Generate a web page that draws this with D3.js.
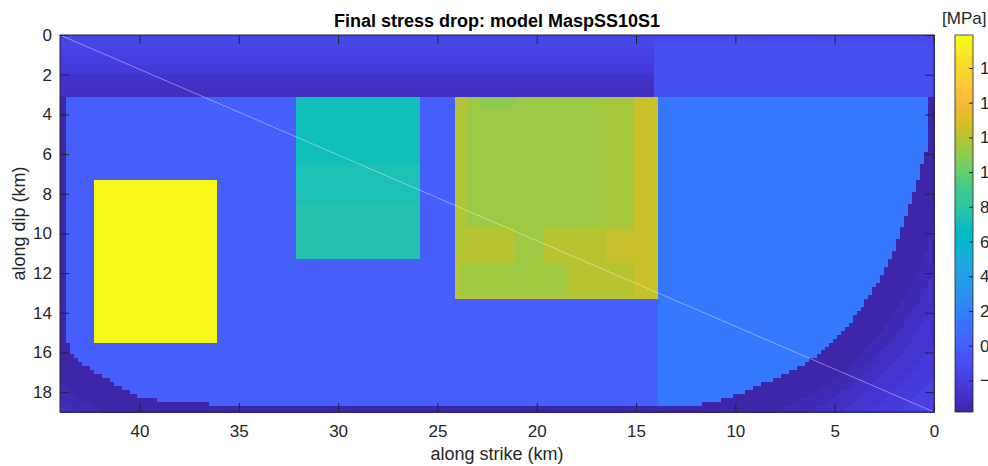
<!DOCTYPE html>
<html>
<head>
<meta charset="utf-8">
<script src="https://cdn.jsdelivr.net/npm/d3@7"></script>
<style>
  html, body { margin: 0; padding: 0; background: #fff; overflow: hidden; }
  svg { display: block; font-family: "Liberation Sans", Arial, Helvetica, sans-serif; }
</style>
</head>
<body>
<svg id="chart" width="988" height="466"></svg>
<script>
// ---- fault plane and axes (km) ----
const strikeExtent = [44, 0];
const dipExtent = [0, 19];
const gridStep = 0.2;            // subfault spacing, cells centred on multiples of it
const strikeTicks = [40, 35, 30, 25, 20, 15, 10, 5, 0];
const dipTicks = [0, 2, 4, 6, 8, 10, 12, 14, 16, 18];
const colorTicks = [-2, 0, 2, 4, 6, 8, 10, 12, 14, 16];
const colorLimits = [-3.82, 17.9];

// ---- asperities: strike range, dip range, stress drop (MPa) ----
const aspStrike = [[36.1, 42.3], [25.9, 32.1], [13.9, 24.1]];
const aspDip = [[7.3, 15.5], [3.1, 11.3], [3.1, 13.3]];
const aspDrop = [17.7, 7.0, 12.0];

// ---- uneven patches inside the asperities (drawn on top, in order) ----
const patchStrike = [
  [25.9, 32.1], [25.9, 32.1],
  [23.5, 24.1], [16.9, 23.5], [15.1, 16.9], [21.1, 22.9], [19.7, 21.1], [18.5, 23.9], [13.9, 15.1], [15.1, 16.5]
];
const patchDip = [
  [6.5, 8.5], [8.5, 11.3],
  [3.1, 11.3], [3.1, 9.7], [3.1, 9.7], [3.1, 3.7], [9.7, 11.5], [11.5, 13.1], [3.1, 13.3], [9.9, 11.5]
];
const patchDrop = [
  7.3, 7.6,
  11.9, 11.3, 11.6, 10.9, 11.4, 11.4, 12.5, 12.4
];

// ---- background outside the asperities ----
const shallowBase = 3.1;
const shallowDipSteps = [0, 0.3, 0.7, 1.1, 1.5, 1.9, 2.3, 2.7];
const shallowDropWest = [-1.5, -1.6, -1.8, -2.0, -2.3, -2.7, -3.0, -3.1];
const shallowDropEast = [-1.4, -1.0, -0.9, -0.9, -0.9, -0.9, -0.9, -0.9];
const eastEdgeShallow = 14.1;
const eastEdge = 13.9;
const deepDropWest = 0.0;
const deepDropEast = 1.5;

// ---- edge of the tapered border zone (strike, dip) ----
const taperStrike = [43.7, 43.7, 43.5, 43.0, 42.0, 41.0, 40.0, 38.5, 36.6, 30.0, 20.0, 13.0, 11.8, 10.8, 9.76, 8.75, 7.75, 6.74, 5.73, 4.73, 3.72, 2.71, 2.0, 1.2, 0.7, 0.3, 0.3];
const taperDip = [3.1, 15.2, 15.9, 16.5, 17.15, 17.75, 18.24, 18.5, 18.6, 18.7, 18.7, 18.65, 18.6, 18.4, 18.07, 17.65, 17.23, 16.76, 16.05, 15.04, 13.87, 12.35, 10.9, 8.4, 6.9, 5.5, 3.1];
// stress drop in the border zone by distance (km) from its inner edge
const taperDist = [0, 1.5, 2.2, 3.0, 4.0, 5.0];
const taperDrop = [-3.8, -3.4, -3.0, -2.6, -2.2, -1.8];

// ---- diagonal trace ----
const lineStrike = [44, 0];
const lineDip = [0, 19];

// ---- parula colormap ----
const parula = [
  [0.2422,0.1504,0.6603],[0.2504,0.1650,0.7076],[0.2578,0.1818,0.7511],[0.2647,0.1978,0.7952],
  [0.2706,0.2147,0.8364],[0.2751,0.2342,0.8710],[0.2783,0.2559,0.8991],[0.2803,0.2782,0.9221],
  [0.2813,0.3006,0.9414],[0.2810,0.3228,0.9579],[0.2795,0.3447,0.9717],[0.2760,0.3667,0.9829],
  [0.2699,0.3892,0.9906],[0.2602,0.4123,0.9952],[0.2440,0.4358,0.9988],[0.2206,0.4603,0.9973],
  [0.1963,0.4847,0.9892],[0.1834,0.5074,0.9798],[0.1786,0.5289,0.9682],[0.1764,0.5499,0.9520],
  [0.1687,0.5703,0.9359],[0.1540,0.5902,0.9218],[0.1460,0.6091,0.9079],[0.1380,0.6276,0.8973],
  [0.1248,0.6459,0.8883],[0.1113,0.6635,0.8763],[0.0952,0.6798,0.8598],[0.0689,0.6948,0.8394],
  [0.0297,0.7082,0.8163],[0.0036,0.7203,0.7917],[0.0067,0.7312,0.7660],[0.0433,0.7411,0.7394],
  [0.0964,0.7500,0.7120],[0.1408,0.7584,0.6842],[0.1717,0.7670,0.6554],[0.1938,0.7758,0.6251],
  [0.2161,0.7843,0.5923],[0.2470,0.7918,0.5567],[0.2906,0.7973,0.5188],[0.3406,0.8008,0.4789],
  [0.3909,0.8029,0.4354],[0.4456,0.8024,0.3909],[0.5044,0.7993,0.3480],[0.5616,0.7942,0.3045],
  [0.6174,0.7876,0.2612],[0.6720,0.7793,0.2227],[0.7242,0.7698,0.1910],[0.7738,0.7598,0.1646],
  [0.8203,0.7498,0.1535],[0.8634,0.7406,0.1596],[0.9035,0.7330,0.1774],[0.9393,0.7288,0.2100],
  [0.9728,0.7298,0.2394],[0.9956,0.7434,0.2371],[0.9970,0.7659,0.2199],[0.9952,0.7893,0.2028],
  [0.9892,0.8136,0.1885],[0.9786,0.8386,0.1766],[0.9676,0.8639,0.1643],[0.9610,0.8890,0.1537],
  [0.9597,0.9135,0.1423],[0.9628,0.9373,0.1265],[0.9691,0.9606,0.1064],[0.9769,0.9839,0.0805]
].map(c => d3.rgb(c[0] * 255, c[1] * 255, c[2] * 255).formatHex());

const color = d3.scaleSequential(d3.piecewise(d3.interpolateRgb, parula))
  .domain(colorLimits).clamp(true);

// ---- layout ----
const svg = d3.select("#chart");
const plot = { left: 60, right: 934, top: 35, bottom: 412 };
const x = d3.scaleLinear().domain(strikeExtent).range([plot.left, plot.right]);
const y = d3.scaleLinear().domain(dipExtent).range([plot.top, plot.bottom]);
const axisColor = "#262626";

// ---- stress drop field ----
const taperLine = taperStrike.map((s, i) => [s, taperDip[i]]);
const innerRegion = [[45, -1], [45, shallowBase], ...taperLine, [-1, shallowBase], [-1, -1]];

function segDist(p, a, b) {
  const dx = b[0] - a[0], dy = b[1] - a[1];
  const L = dx * dx + dy * dy;
  let t = L ? ((p[0] - a[0]) * dx + (p[1] - a[1]) * dy) / L : 0;
  t = Math.max(0, Math.min(1, t));
  const qx = a[0] + t * dx - p[0], qy = a[1] + t * dy - p[1];
  return Math.sqrt(qx * qx + qy * qy);
}
function stepLookup(keys, vals, v) {
  let k = 0;
  for (let i = 0; i < keys.length; i++) if (v >= keys[i]) k = i;
  return vals[k];
}
function inside(s, d, sr, dr) {
  return s > sr[0] && s < sr[1] && d > dr[0] && d < dr[1];
}
function dropAt(s, d) {
  for (let a = 0; a < aspDrop.length; a++) {
    if (inside(s, d, aspStrike[a], aspDip[a])) {
      let v = aspDrop[a];
      patchDrop.forEach((pv, p) => {
        if (inside(s, d, patchStrike[p], patchDip[p])) v = pv;
      });
      return v;
    }
  }
  if (d < shallowBase) {
    return stepLookup(shallowDipSteps, s > eastEdgeShallow ? shallowDropWest : shallowDropEast, d);
  }
  if (!d3.polygonContains(innerRegion, [s, d])) {
    let dist = Infinity;
    for (let i = 0; i < taperLine.length - 1; i++) {
      dist = Math.min(dist, segDist([s, d], taperLine[i], taperLine[i + 1]));
    }
    return stepLookup(taperDist, taperDrop, dist);
  }
  return s > eastEdge ? deepDropWest : deepDropEast;
}

// cells centred on the grid nodes, clipped to the fault plane; equal neighbours merged per row
const nS = Math.round(44 / gridStep);
const nD = Math.round(19 / gridStep);
const cells = [];
for (let j = 0; j <= nD; j++) {
  const d = +(j * gridStep).toFixed(2);
  const d0 = Math.max(0, d - gridStep / 2), d1 = Math.min(19, d + gridStep / 2);
  let runStart = null, prev = null, lastEdge = null;
  for (let k = nS; k >= -1; k--) {
    const s = +(k * gridStep).toFixed(2);
    const c = k >= 0 ? color(dropAt(s, d)) : null;
    if (c !== prev) {
      if (prev !== null) cells.push({ s0: runStart, s1: lastEdge, d0, d1, fill: prev });
      runStart = Math.min(44, s + gridStep / 2);
      prev = c;
    }
    lastEdge = Math.max(0, s - gridStep / 2);
  }
}

svg.append("g")
  .attr("shape-rendering", "crispEdges")
  .selectAll("rect")
  .data(cells)
  .join("rect")
  .attr("x", c => x(c.s0))
  .attr("y", c => y(c.d0))
  .attr("width", c => x(c.s1) - x(c.s0) + 0.5)
  .attr("height", c => y(c.d1) - y(c.d0) + 0.5)
  .attr("fill", c => c.fill);

// diagonal trace
svg.append("line")
  .attr("x1", x(lineStrike[0])).attr("y1", y(lineDip[0]))
  .attr("x2", x(lineStrike[1])).attr("y2", y(lineDip[1]))
  .attr("stroke", "#ffffff").attr("stroke-opacity", 0.5).attr("stroke-width", 0.8);

// ---- axes ----
const tick = 9;
function styleAxis(g) {
  g.selectAll("line").attr("stroke", axisColor);
  g.selectAll("path").remove();
  g.selectAll("text").attr("fill", axisColor).attr("font-size", 17);
}
svg.append("g").attr("transform", `translate(0,${plot.bottom})`)
  .call(d3.axisBottom(x).tickValues(strikeTicks).tickSizeInner(-tick).tickSizeOuter(0).tickPadding(13))
  .call(styleAxis);
svg.append("g").attr("transform", `translate(0,${plot.top})`)
  .call(d3.axisTop(x).tickValues(strikeTicks).tickSizeInner(-tick).tickSizeOuter(0).tickFormat(""))
  .call(styleAxis);
svg.append("g").attr("transform", `translate(${plot.left},0)`)
  .call(d3.axisLeft(y).tickValues(dipTicks).tickSizeInner(-tick).tickSizeOuter(0).tickPadding(8))
  .call(styleAxis);
svg.append("g").attr("transform", `translate(${plot.right},0)`)
  .call(d3.axisRight(y).tickValues(dipTicks).tickSizeInner(-tick).tickSizeOuter(0).tickFormat(""))
  .call(styleAxis);

svg.append("rect")
  .attr("x", plot.left).attr("y", plot.top)
  .attr("width", plot.right - plot.left).attr("height", plot.bottom - plot.top)
  .attr("fill", "none").attr("stroke", axisColor).attr("stroke-width", 1);

// titles
svg.append("text")
  .attr("x", (plot.left + plot.right) / 2).attr("y", 27)
  .attr("text-anchor", "middle").attr("font-weight", "bold").attr("font-size", 18)
  .attr("fill", "#000").text("Final stress drop: model MaspSS10S1");
svg.append("text")
  .attr("x", (plot.left + plot.right) / 2).attr("y", 460)
  .attr("text-anchor", "middle").attr("font-size", 18)
  .attr("fill", axisColor).text("along strike (km)");
svg.append("text")
  .attr("transform", `translate(25,${(plot.top + plot.bottom) / 2}) rotate(-90)`)
  .attr("text-anchor", "middle").attr("font-size", 18)
  .attr("fill", axisColor).text("along dip (km)");

// ---- colour bar ----
const bar = { left: 955, right: 973 };
const cy = d3.scaleLinear().domain(colorLimits).range([plot.bottom, plot.top]);
const grad = svg.append("defs").append("linearGradient")
  .attr("id", "parulaGrad").attr("x1", 0).attr("y1", 1).attr("x2", 0).attr("y2", 0);
grad.selectAll("stop").data(parula).join("stop")
  .attr("offset", (c, i) => i / (parula.length - 1))
  .attr("stop-color", c => c);
svg.append("rect")
  .attr("x", bar.left).attr("y", plot.top)
  .attr("width", bar.right - bar.left).attr("height", plot.bottom - plot.top)
  .attr("fill", "url(#parulaGrad)")
  .attr("stroke", axisColor).attr("stroke-width", 0.8);
const cbAxis = svg.append("g").attr("transform", `translate(${bar.right},0)`)
  .call(d3.axisRight(cy).tickValues(colorTicks).tickSizeInner(-4).tickSizeOuter(0).tickPadding(7));
cbAxis.call(styleAxis);
svg.append("text")
  .attr("x", 942).attr("y", 24)
  .attr("font-size", 17).attr("fill", axisColor).text("[MPa]");
</script>
</body>
</html>
